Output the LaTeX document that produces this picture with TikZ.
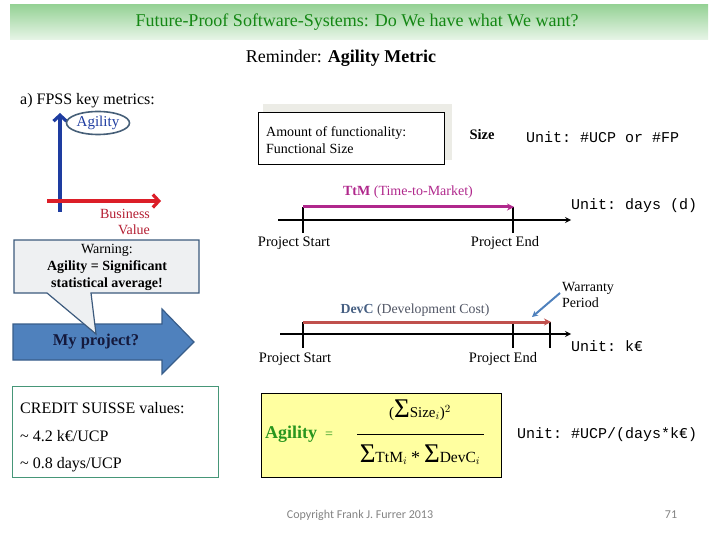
\documentclass[tikz,border=0pt]{standalone}
\usepackage{fontspec}
\setmainfont{Liberation Serif}
\setmonofont{Liberation Mono}
\newfontfamily\calfont{Carlito}
\usetikzlibrary{positioning, arrows.meta, shapes.geometric}

\definecolor{titletop}{RGB}{150,210,150}
\definecolor{titlebot}{RGB}{232,245,232}
\definecolor{titlegreen}{RGB}{20,135,20}
\definecolor{axisblue}{RGB}{30,60,160}
\definecolor{axisred}{RGB}{220,30,40}
\definecolor{bizred}{RGB}{180,30,50}
\definecolor{ellgrey}{RGB}{70,95,120}
\definecolor{callfill}{RGB}{238,240,242}
\definecolor{callline}{RGB}{60,90,125}
\definecolor{arrfill}{RGB}{79,129,189}
\definecolor{arrline}{RGB}{56,93,138}
\definecolor{arrtext}{RGB}{20,25,60}
\definecolor{csgreen}{RGB}{70,150,120}
\definecolor{shadowgrey}{RGB}{236,236,230}
\definecolor{ttmcol}{RGB}{176,40,140}
\definecolor{devccol}{RGB}{192,80,77}
\definecolor{devctext}{RGB}{70,95,130}
\definecolor{devcgrey}{RGB}{80,85,100}
\definecolor{formfill}{RGB}{255,255,160}
\definecolor{agilgreen}{RGB}{40,150,30}
\definecolor{copygrey}{RGB}{130,130,130}

\newcommand\fs[2]{\fontsize{#1}{#2}\selectfont}
\newcommand\bigsig{{\fs{27}{27}Σ}}

\begin{document}
\begin{tikzpicture}[x=1pt, y=-1pt, >=stealth,
  txt/.style={inner sep=0pt},
  lbl/.style={inner sep=0pt, font=\fs{14.5}{16}},
  unit/.style={inner sep=0pt, anchor=west, font=\ttfamily\fs{15}{17}},
  timeaxis/.style={->, line width=1.6pt},
  tickmark/.style={line width=2.6pt},
  span/.style={line width=3pt, -{Stealth[length=7pt,width=7pt]}},
  keyaxis/.style={line width=3.2pt, -{Straight Barb[length=6pt,width=13pt]}}]
\useasboundingbox (0,0) rectangle (720,540);

% title bar
\shade[top color=titletop, bottom color=titlebot] (10,5) rectangle (708,40);
\node[txt, font=\fs{18}{20}, text=titlegreen] (title) at (357,22) {Future-Proof Software-Systems: Do We have what We want?};
\node[txt, font=\fs{18}{20}] (remind) at (341,58) {Reminder: \textbf{Agility Metric}};

% a) key metrics
\node[txt, anchor=west, font=\fs{16}{18}] (fpss) at (20,101) {a) FPSS key metrics:};
\coordinate (agilB) at (60,212);
\coordinate (agilT) at (60,113);
\coordinate (bizL) at (47,201);
\coordinate (bizR) at (161,201);
\draw[keyaxis, axisblue] (agilB) -- (agilT);
\draw[keyaxis, axisred] (bizL) -- (bizR);
\node[ellipse, draw=ellgrey, line width=1.6pt, text=axisblue, inner sep=0pt,
  minimum width=63, minimum height=23, font=\fs{15}{16}] (agil) at (98,123) {Agility};
\node[txt, align=right, text=bizred, font=\fs{14}{16}] (bizval) at (125,222) {Business\\Value};

% my project arrow
\draw[fill=arrfill, draw=arrline, line width=1.2pt]
  (13,324) -- (162,324) -- (162,309) -- (194,342) -- (162,374) -- (162,360) -- (13,360) -- cycle;
\node[txt, text=arrtext, font=\bfseries\fs{16.5}{18}] (myproj) at (96,342) {My project?};

% warning callout
\draw[fill=callfill, draw=callline, line width=1.2pt]
  (14,240) -- (199,240) -- (199,293) -- (91,293) -- (96,334) -- (47,293) -- (14,293) -- cycle;
\node[txt, align=center, font=\fs{14}{17}] (warn) at (107,267)
  {Warning:\\\textbf{Agility = Significant}\\\textbf{statistical average!}};

% CREDIT SUISSE values
\node[draw=csgreen, line width=0.9pt, minimum width=206, minimum height=91, anchor=north west] (csbox) at (12,386) {};
\node[txt, anchor=west, font=\fs{16}{18}] (cs1) at (20,408) {CREDIT SUISSE values:};
\node[txt, anchor=west, font=\fs{16}{18}] (cs2) at (20,436) {\textasciitilde\ 4.2 k€/UCP};
\node[txt, anchor=west, font=\fs{16}{18}] (cs3) at (20,465) {\textasciitilde\ 0.8 days/UCP};

% Size
\fill[shadowgrey] (263,104) rectangle (452,160);
\node[draw, fill=white, line width=0.8pt, minimum width=186, minimum height=52, anchor=north west] (fsbox) at (258,112) {};
\node[txt, align=left, anchor=west, font=\fs{14}{17}] (fstext) at (266,140) {Amount of functionality:\\Functional Size};
\node[txt, font=\bfseries\fs{14.5}{16}] (size) at (482,135) {Size};
\node[unit] (usize) at (526,137) {Unit: \#UCP or \#FP};

% TtM
\coordinate (ttmL) at (278,220);
\coordinate (ttmR) at (571,220);
\draw[timeaxis] (ttmL) -- (ttmR);
\foreach \x in {303,513} \draw[tickmark] (\x,207) -- (\x,233);
\coordinate (ttmS) at (303,207);
\coordinate (ttmE) at (514,207);
\draw[span, ttmcol] (ttmS) -- (ttmE);
\node[lbl, text=ttmcol, font=\fs{14}{16}] (ttm) at (408,192) {\textbf{TtM} (Time-to-Market)};
\node[unit] (uttm) at (571,206) {Unit: days (d)};
\node[lbl] (ttmstart) at (294,243) {Project Start};
\node[lbl] (ttmend) at (505,243) {Project End};

% DevC
\coordinate (devL) at (280,334);
\coordinate (devR) at (571,334);
\draw[timeaxis] (devL) -- (devR);
\foreach \x in {303,513,550} \draw[tickmark] (\x,322) -- (\x,348);
\coordinate (devS) at (303,322);
\coordinate (devE) at (551,322);
\draw[span, devccol] (devS) -- (devE);
\node[lbl, text=devcgrey, font=\fs{13.8}{16}] (devc) at (415,310) {\textcolor{devctext}{\textbf{DevC}} (Development Cost)};
\node[txt, align=left, anchor=west, font=\fs{14}{16}] (warr) at (562,295) {Warranty\\Period};
\coordinate (warrtip) at (532,317);
\draw[line width=2pt, arrfill, -{Stealth[length=6pt,width=6pt]}] (warr.west) ++(-2,-2) -- (warrtip);
\node[unit] (udevc) at (571,346) {Unit: k€};
\node[lbl] (devstart) at (295,359) {Project Start};
\node[lbl] (devend) at (503,359) {Project End};

% Agility formula
\node[draw, fill=formfill, line width=1pt, minimum width=240, minimum height=84, anchor=north west] (formbox) at (261,393) {};
\node[txt, text=agilgreen, font=\bfseries\fs{18}{20}] (agilf) at (291,434) {Agility};
\node[txt, text=agilgreen, font=\fs{14}{16}] (eq) at (329,435) {=};
\node[txt, font=\fs{15}{16}] (num) at (420,410) {(\bigsig Size$_i$)$^2$};
\coordinate (fracL) at (357,434);
\coordinate (fracR) at (484,434);
\draw[line width=0.8pt] (fracL) -- (fracR);
\node[txt, font=\fs{15.5}{16}] (den) at (420,455) {\bigsig TtM$_i$ \raisebox{-1pt}{\fs{18}{18}*} \bigsig DevC$_i$};
\node[unit] (uagil) at (517,435) {Unit: \#UCP/(days*k€)};

% footer
\node[txt, text=copygrey, font=\calfont\fs{12}{14}] (copy) at (360,515) {Copyright Frank J. Furrer 2013};
\node[txt, text=copygrey, font=\calfont\fs{12}{14}] (page) at (671,515) {71};
\end{tikzpicture}
\end{document}
